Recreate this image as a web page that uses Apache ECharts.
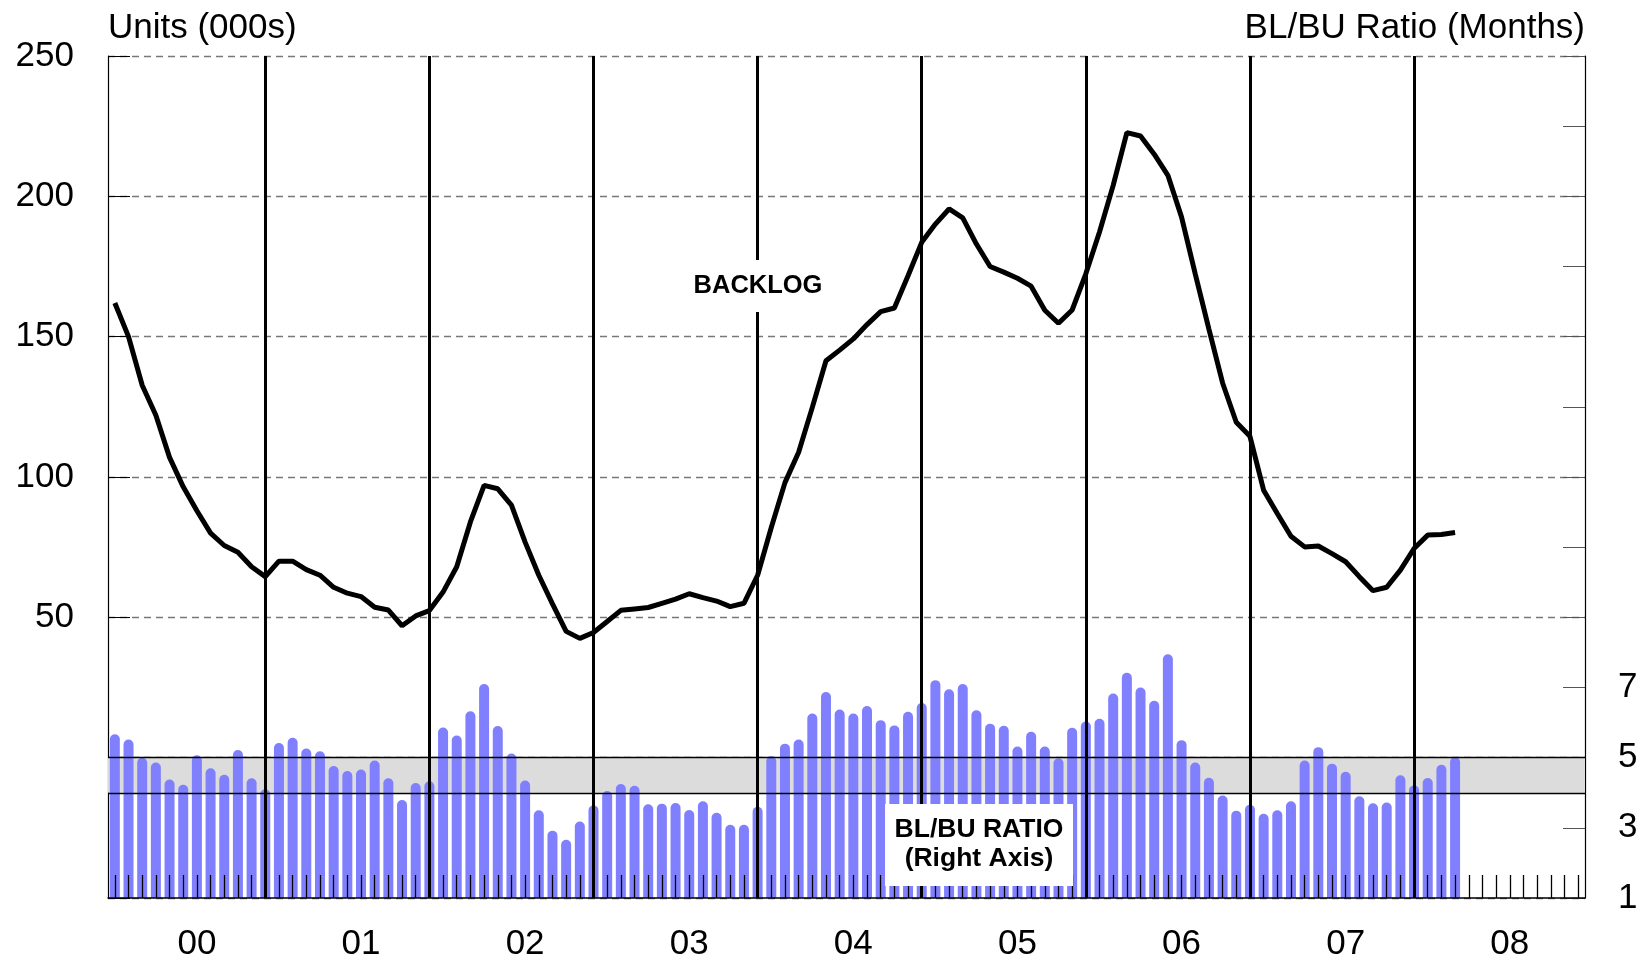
<!DOCTYPE html>
<html>
<head>
<meta charset="utf-8">
<title>Backlog and BL/BU ratio</title>
<script src="https://cdn.jsdelivr.net/npm/echarts@6/dist/echarts.min.js"></script>
<style>
  html, body { margin: 0; padding: 0; background: #fff; }
  #chart { width: 1650px; height: 957px; }
</style>
</head>
<body>
<div id="chart"></div>
<script>
// monthly categories, Jul 1999 .. Jun 2008
const months = [];
for (let i = 0; i < 108; i++) {
  const y = 1999 + Math.floor((6 + i) / 12);
  const m = (6 + i) % 12 + 1;
  months.push(y + '-' + (m < 10 ? '0' + m : m));
}

// backlog, units (000s), Jul 1999 .. Sep 2007
const backlog = [
  162, 150, 132.7, 122, 107, 96.5, 88, 80, 75.6, 73.2, 68, 64.5,
  70, 70, 67, 65, 60.7, 58.6, 57.4, 53.6, 52.6, 47, 50.5, 52.4,
  59, 68, 84, 97, 95.8, 90, 76.8, 65, 54.8, 45, 42.5, 44.6,
  48.5, 52.5, 53, 53.5, 55, 56.5, 58.4, 57, 55.8, 53.8, 55, 65,
  82, 98, 108.8, 124.8, 141.4, 145.2, 149.2, 154.3, 158.9, 160.2, 171.7, 183.6,
  190.1, 195.5, 192.3, 183, 175, 173, 170.8, 168, 159.4, 154.8, 159.5, 172.4,
  187.3, 203.9, 222.7, 221.5, 215, 207.5, 192.6, 172.4, 152.7, 133.5, 119.5, 114.5,
  95.3, 87, 78.9, 75.1, 75.4, 72.7, 69.8, 64.5, 59.5, 60.7, 66.8, 74.5,
  79.3, 79.5, 80.2
];

// backlog / build-up ratio, months (right axis)
const ratio = [
  5.67, 5.52, 5.0, 4.86, 4.38, 4.23, 5.07, 4.70, 4.51, 5.22, 4.41, 4.10,
  5.42, 5.57, 5.26, 5.18, 4.76, 4.62, 4.66, 4.92, 4.41, 3.79, 4.28, 4.33,
  5.86, 5.63, 6.32, 7.10, 5.90, 5.12, 4.35, 3.50, 2.92, 2.66, 3.18, 3.64,
  4.05, 4.25, 4.20, 3.67, 3.69, 3.71, 3.51, 3.76, 3.43, 3.09, 3.09, 3.60,
  5.04, 5.40, 5.52, 6.26, 6.87, 6.37, 6.26, 6.47, 6.07, 5.92, 6.31, 6.56,
  7.21, 6.95, 7.10, 6.35, 5.97, 5.91, 5.32, 5.74, 5.32, 4.98, 5.85, 6.03,
  6.11, 6.83, 7.42, 7.0, 6.62, 7.95, 5.50, 4.86, 4.43, 3.92, 3.49, 3.66,
  3.40, 3.50, 3.76, 4.92, 5.30, 4.83, 4.60, 3.90, 3.70, 3.72, 4.50, 4.21,
  4.42, 4.80, 5.02
];

// vertical reference lines (each June)
const dividers = ['2000-06', '2001-06', '2002-06', '2003-06', '2004-06', '2005-06', '2006-06', '2007-06'];
// shaded band on the right axis
const bandLow = 4;
const bandHigh = 5;

const FONT = "'Liberation Sans', Arial, sans-serif";
const FS = 35;

const chart = echarts.init(document.getElementById('chart'));

const markLines = dividers.map(d => ({ xAxis: d, lineStyle: { color: '#000', width: 3, type: 'solid' } }));
markLines.push({ yAxis: bandLow }, { yAxis: bandHigh });

chart.setOption({
  animation: false,
  backgroundColor: '#fff',
  textStyle: { fontFamily: FONT },
  grid: { left: 108, right: 65, top: 56, bottom: 59, containLabel: false, outerBoundsMode: 'none' },
  xAxis: {
    type: 'category',
    data: months,
    boundaryGap: true,
    z: 10,
    axisLine: { onZero: false, lineStyle: { color: '#000', width: 1.5 } },
    axisTick: {
      show: true, inside: true, length: 23, alignWithLabel: true, interval: 0,
      lineStyle: { color: '#000', width: 1.3 }
    },
    axisLabel: {
      interval: (i) => i % 12 === 6,
      formatter: (v) => v.slice(2, 4),
      fontSize: FS, color: '#000', margin: 29, fontFamily: FONT
    },
    splitLine: { show: false }
  },
  yAxis: [
    {
      type: 'value', min: -50, max: 250, interval: 50, position: 'left',
      name: 'Units (000s)', nameLocation: 'end', nameGap: 10,
      nameTextStyle: { align: 'left', fontSize: FS, color: '#000', fontFamily: FONT },
      axisLine: { show: true, lineStyle: { color: '#000', width: 1.2 } },
      axisTick: { show: true, inside: true, length: 22, lineStyle: { color: '#000' } },
      axisLabel: {
        formatter: (v) => (v >= 50 ? v : ''),
        fontSize: FS, color: '#000', margin: 34, fontFamily: FONT
      },
      splitLine: { show: true, lineStyle: { color: '#777', type: [7, 5], width: 1.3 } }
    },
    {
      type: 'value', min: 1, max: 25, interval: 2, position: 'right',
      name: 'BL/BU Ratio (Months)', nameLocation: 'end', nameGap: 10,
      nameTextStyle: { align: 'right', fontSize: FS, color: '#000', fontFamily: FONT },
      axisLine: { show: true, lineStyle: { color: '#000', width: 1.2 } },
      axisTick: { show: true, inside: true, length: 22, lineStyle: { color: '#555' } },
      axisLabel: {
        formatter: (v) => (v <= 7 ? v : ''),
        fontSize: FS, color: '#000', margin: 33, fontFamily: FONT
      },
      splitLine: { show: false }
    }
  ],
  series: [
    {
      name: 'guides',
      type: 'line',
      yAxisIndex: 1,
      data: [],
      z: 1,
      silent: true,
      markArea: {
        silent: true,
        itemStyle: { color: '#dcdcdc' },
        data: [[{ yAxis: bandLow }, { yAxis: bandHigh }]]
      },
      markLine: {
        silent: true,
        symbol: ['none', 'none'],
        label: { show: false },
        lineStyle: { color: '#000', width: 1.3, type: 'solid' },
        data: markLines
      }
    },
    {
      name: 'BL/BU RATIO',
      type: 'bar',
      yAxisIndex: 1,
      data: ratio,
      barWidth: 10,
      z: 2,
      itemStyle: { color: '#8080ff', borderRadius: [5, 5, 0, 0] }
    },
    {
      name: 'BACKLOG',
      type: 'line',
      yAxisIndex: 0,
      data: backlog,
      showSymbol: false,
      z: 3,
      lineStyle: { color: '#000', width: 5 }
    }
  ],
  graphic: [
    {
      type: 'text', x: 758, y: 286, z: 100,
      style: {
        text: 'BACKLOG', font: 'bold 25.5px ' + FONT, fill: '#000',
        align: 'center', verticalAlign: 'middle',
        backgroundColor: '#fff', padding: [13, 4]
      }
    },
    {
      type: 'rect', z: 100,
      shape: { x: 885, y: 804, width: 188, height: 82 },
      style: { fill: '#fff' }
    },
    {
      type: 'text', x: 979, y: 844, z: 101,
      style: {
        text: 'BL/BU RATIO\n(Right Axis)', font: 'bold 26.5px ' + FONT, fill: '#000',
        align: 'center', verticalAlign: 'middle', lineHeight: 29
      }
    }
  ]
});
</script>
</body>
</html>
